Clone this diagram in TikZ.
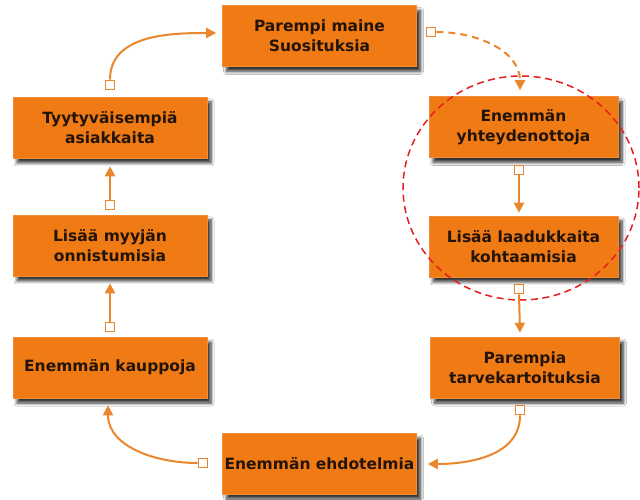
\documentclass[tikz,border=0pt]{standalone}
\usepackage{fontspec}
\setmainfont{DejaVu Sans}
\usetikzlibrary{arrows.meta,shadows.blur}
\definecolor{boxor}{RGB}{240,122,20}
\definecolor{connor}{RGB}{234,134,46}
\definecolor{txt}{RGB}{35,20,10}
\definecolor{ringred}{RGB}{232,30,30}
\begin{document}
\begin{tikzpicture}[x=1pt,y=1pt,
  box/.style={fill=boxor, draw=boxor!85!white, line width=0.6pt, minimum width=194pt, minimum height=61pt,
    align=center, text=txt, font=\fontsize{15.5}{20}\selectfont\bfseries, inner sep=0pt,
    blur shadow={shadow xshift=4pt, shadow yshift=-5pt, shadow blur steps=8, shadow blur radius=3pt, shadow opacity=80}},
  rbox/.style={box, minimum width=189pt},
  sq/.style={draw=connor, fill=white, line width=1.8pt, minimum size=9pt, inner sep=0pt},
  arr/.style={draw=connor, line width=2pt, -{Triangle[length=10pt,width=10pt]}},
]
\useasboundingbox (0,0) rectangle (640,499);
\fill[white] (0,0) rectangle (640,499);

% boxes
\node[box] (top) at (319.5,463) {Parempi maine\\Suosituksia};
\node[box] (tyyty) at (110,371.5) {Tyytyväisempiä\\asiakkaita};
\node[box] (myyjan) at (110,253.5) {Lisää myyjän\\onnistumisia};
\node[box] (kaup) at (110,131.5) {Enemmän kauppoja};
\node[box] (ehdot) at (319.5,35.5) {Enemmän ehdotelmia};
\node[rbox] (tarve) at (525,131.5) {Parempia\\tarvekartoituksia};
\node[rbox] (laadu) at (523.5,252.5) {Lisää laadukkaita\\kohtaamisia};
\node[rbox] (yhtey) at (523.5,372) {Enemmän\\yhteydenottoja};

% red ring
\draw[ringred, line width=1.5pt, dash pattern=on 7pt off 4.5pt] (521,311) ellipse [x radius=118, y radius=112];

% start squares
\node[sq] (s1) at (431,467) {};
\node[sq] (s2) at (519,329) {};
\node[sq] (s3) at (519,210) {};
\node[sq] (s4) at (520,89) {};
\node[sq] (s5) at (203,36) {};
\node[sq] (s6) at (110,172) {};
\node[sq] (s7) at (110,294) {};
\node[sq] (s8) at (110,414) {};

% connectors
\draw[arr, dash pattern=on 7pt off 5pt] (s1.east) to[out=0,in=90] ([xshift=-3.5pt,yshift=6pt]yhtey.north);
\draw[arr] (s2.south) -- ([xshift=-4.5pt,yshift=3pt]laadu.north);
\draw[arr] (s3.south) -- ([xshift=-5pt,yshift=4pt]tarve.north);
\draw[arr] (s4.south) to[out=-90,in=0] ([xshift=11pt,yshift=-0.5pt]ehdot.east);
\draw[arr] (s5.west) to[out=180,in=-90] ([xshift=-2pt,yshift=-7pt]kaup.south);
\draw[arr] (s6.north) -- ([yshift=-7pt]myyjan.south);
\draw[arr] (s7.north) -- ([yshift=-8pt]tyyty.south);
\draw[arr] (s8.north) to[out=90,in=180] ([xshift=-6pt,yshift=3pt]top.west);
\end{tikzpicture}
\end{document}
